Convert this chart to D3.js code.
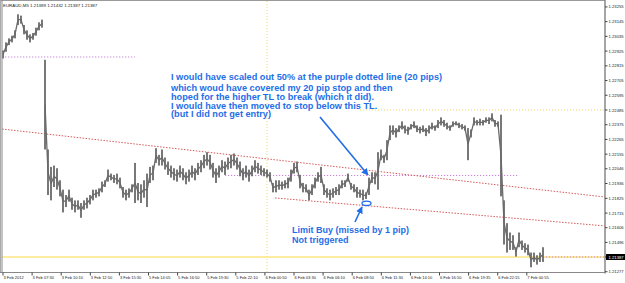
<!DOCTYPE html>
<html><head><meta charset="utf-8">
<script src="https://cdn.jsdelivr.net/npm/d3@7"></script>
<style>html,body{margin:0;padding:0;background:#fff;overflow:hidden}svg{display:block}</style>
</head><body>
<svg id="c" width="625" height="283"></svg>
<script>
const titleText = "EURAUD,M5  1.21389 1.21432 1.21387 1.21387";
const xLabels = ["3 Feb 2012","3 Feb 07:30","3 Feb 10:10","3 Feb 12:50","3 Feb 15:30","5 Feb 14:05","5 Feb 16:50","5 Feb 19:30","5 Feb 22:10","6 Feb 00:50","6 Feb 03:30","6 Feb 06:10","6 Feb 08:50","6 Feb 11:30","6 Feb 14:10","6 Feb 16:50","6 Feb 19:35","6 Feb 22:15","7 Feb 00:55"];
const yTicks = [1.23255,1.23145,1.23035,1.22925,1.22815,1.22705,1.22595,1.22485,1.22375,1.22265,1.22155,1.22046,1.21936,1.21825,1.21715,1.21606,1.21496,1.21387,1.21277];
const lastPrice = 1.21387;
// price highs / lows per 15-minute column
const highs = [1.2293,1.2299,1.2302,1.2304,1.2308,1.2320,1.2319,1.2312,1.2308,1.2305,1.2306,1.2310,1.2314,1.2316,
1.2286,1.2219,1.2206,1.2207,1.2205,1.2196,1.2189,1.2185,1.2189,1.2183,1.2181,1.2181,1.2179,1.2181,1.2183,1.2185,1.2189,1.2189,1.2190,1.2195,1.2196,1.2204,1.2201,1.2200,1.2201,1.2198,1.2191,1.2189,1.2190,1.2193,1.2209,1.2194,1.2193,1.2196,1.2201,1.2206,1.2207,1.2220,1.2215,1.2219,
1.2213,1.2210,1.2207,1.2205,1.2204,1.2207,1.2205,1.2202,1.2204,1.2207,1.2205,1.2209,1.2211,1.2215,1.2217,1.2215,1.2209,1.2205,1.2207,1.2211,1.2210,1.2213,1.2215,1.2216,1.2213,1.2210,1.2205,1.2207,1.2204,1.2207,1.2211,1.2209,1.2207,1.2205,1.2204,1.2202,
1.2194,1.2196,1.2196,1.2195,1.2196,1.2198,1.2204,1.2209,1.2210,1.2200,1.2194,1.2193,1.2189,1.2193,1.2198,1.2202,1.2206,1.2193,1.2190,1.2189,1.2190,1.2191,1.2193,1.2196,1.2196,1.2201,1.2194,1.2193,1.2191,1.2189,1.2189,1.2187,1.2198,1.2202,1.2202,1.2217,1.2219,1.2215,1.2226,
1.2237,1.2237,1.2235,1.2237,1.2240,1.2237,1.2236,1.2238,1.2240,1.2237,1.2236,1.2237,1.2235,1.2237,1.2239,1.2237,1.2241,1.2243,1.2241,1.2239,1.2237,1.2240,1.2240,1.2239,1.2238,1.2237,1.2235,1.2234,1.2243,1.2241,1.2242,1.2241,1.2243,1.2243,1.2246,1.2241,1.2240,
1.2245,1.2181,1.2164,1.2157,1.2155,1.2146,1.2157,1.2151,1.2149,1.2148,1.2142,1.2142,1.2140,1.2142,1.2146];
const lows = [1.2287,1.2292,1.2297,1.2299,1.2302,1.2312,1.2313,1.2305,1.2301,1.2299,1.2301,1.2304,1.2308,1.2310,
1.2219,1.2185,1.2181,1.2191,1.2189,1.2184,1.2172,1.2176,1.2180,1.2174,1.2172,1.2174,1.2168,1.2174,1.2175,1.2178,1.2181,1.2183,1.2184,1.2187,1.2191,1.2195,1.2196,1.2194,1.2193,1.2190,1.2183,1.2181,1.2183,1.2187,1.2179,1.2181,1.2179,1.2183,1.2176,1.2194,1.2196,1.2209,1.2207,1.2207,
1.2204,1.2200,1.2198,1.2196,1.2195,1.2198,1.2196,1.2193,1.2195,1.2198,1.2196,1.2200,1.2202,1.2205,1.2207,1.2204,1.2198,1.2194,1.2198,1.2202,1.2200,1.2204,1.2205,1.2207,1.2204,1.2199,1.2196,1.2198,1.2195,1.2199,1.2202,1.2201,1.2200,1.2199,1.2198,1.2195,
1.2187,1.2187,1.2189,1.2189,1.2190,1.2190,1.2195,1.2201,1.2202,1.2190,1.2187,1.2187,1.2181,1.2185,1.2190,1.2195,1.2194,1.2185,1.2183,1.2181,1.2183,1.2185,1.2185,1.2190,1.2191,1.2195,1.2189,1.2187,1.2183,1.2183,1.2181,1.2182,1.2185,1.2194,1.2193,1.2189,1.2211,1.2209,1.2211,
1.2226,1.2230,1.2228,1.2232,1.2234,1.2231,1.2230,1.2234,1.2235,1.2232,1.2231,1.2232,1.2229,1.2231,1.2234,1.2233,1.2235,1.2237,1.2236,1.2234,1.2233,1.2236,1.2237,1.2235,1.2234,1.2233,1.2211,1.2228,1.2237,1.2237,1.2237,1.2237,1.2239,1.2238,1.2240,1.2236,1.2236,
1.2184,1.2148,1.2142,1.2144,1.2144,1.2139,1.2146,1.2144,1.2142,1.2140,1.2131,1.2135,1.2133,1.2135,1.2135];
// columns after which a price gap occurs (no connection)
const gapAfter = [13];
// drawn objects (column index, price)
const upperTL = [[-0.3,1.22343],[200.7,1.21835]];
const lowerTL = [[90.7,1.21828],[200.7,1.21619]];
const purpleTop = [[-0.3,1.22881],[44,1.22881]];
const purpleMid = [[74,1.21996],[171.7,1.21996]];
const purpleEnd = [[180,1.21387],[200.7,1.21387]];
const yellowDotted = [[119,1.22485],[200.7,1.22485]];
const daySep = 88;
const note1 = ["I would have scaled out 50% at the purple dotted line (20 pips)","which woud have covered my 20 pip stop and then","hoped for the higher TL to break (which it did).","I would have then moved to stop below this TL.","(but I did not get entry)"];
const note2 = ["Limit Buy (missed by 1 pip)","Not triggered"];

const svg = d3.select("#c");
const x = d3.scaleLinear().domain([0,200]).range([3,603]);
const y = d3.scaleLinear().domain([1.21387,1.22485]).range([257,110]);
const L=2, R=605, T=1, B=272.5;
const blue = "#1f6ee8";
const barCol = "#6a6a6a";

svg.append("rect").attr("x",0).attr("y",0).attr("width",625).attr("height",283).attr("fill","#fff");
const plot = svg.append("g");
plot.append("defs").append("clipPath").attr("id","clp").append("rect").attr("x",L).attr("y",T).attr("width",R-L).attr("height",B-T);
const g = plot.append("g").attr("clip-path","url(#clp)");
const line = d3.line().x(d=>x(d[0])).y(d=>y(d[1]));

// separators & levels
g.append("line").attr("x1",x(daySep)).attr("x2",x(daySep)).attr("y1",T).attr("y2",B).attr("stroke","#f0d870").attr("stroke-width",1).attr("stroke-dasharray","1,2");
g.append("line").attr("x1",L).attr("x2",R).attr("y1",y(lastPrice)).attr("y2",y(lastPrice)).attr("stroke","#ffe680").attr("stroke-width",1.5);
g.append("path").attr("d",line(yellowDotted)).attr("stroke","#f5d860").attr("stroke-dasharray","1,2").attr("fill","none");
[purpleTop,purpleMid,purpleEnd].forEach(p=>g.append("path").attr("d",line(p)).attr("stroke","#c77fd8").attr("stroke-dasharray","1.2,1.8").attr("fill","none"));
[upperTL,lowerTL].forEach(p=>g.append("path").attr("d",line(p)).attr("stroke","#d65a5a").attr("stroke-dasharray","1.5,1.5").attr("fill","none"));

// price: connecting path through bar mid-points, then bars
const mids = highs.map((h,i)=>[i,(h+lows[i])/2]);
const priceLine = d3.line().defined((d,i)=>true).x(d=>x(d[0])).y(d=>y(d[1]));
const segs = [];
let cur = [];
mids.forEach((m,i)=>{ cur.push(m); if(gapAfter.includes(i)){segs.push(cur);cur=[];} });
segs.push(cur);
segs.forEach(s=>g.append("path").attr("d",priceLine(s)).attr("fill","none").attr("stroke",barCol).attr("stroke-width",1.3).attr("stroke-linejoin","round"));
g.selectAll("rect.bar").data(highs).enter().append("rect").attr("class","bar")
 .attr("x",(d,i)=>x(i)-0.9).attr("width",1.8)
 .attr("y",d=>y(d)).attr("height",(d,i)=>Math.max(1,y(lows[i])-y(d)))
 .attr("fill",barCol);

// frame
svg.append("line").attr("x1",0).attr("x2",R).attr("y1",0.5).attr("y2",0.5).attr("stroke","#999");
svg.append("line").attr("x1",0.5).attr("x2",0.5).attr("y1",0).attr("y2",B).attr("stroke","#aaa");
svg.append("line").attr("x1",2).attr("x2",2).attr("y1",0).attr("y2",B).attr("stroke","#888");
svg.append("line").attr("x1",R).attr("x2",R).attr("y1",0).attr("y2",B+1).attr("stroke","#888").attr("stroke-width",1.5);
svg.append("line").attr("x1",0).attr("x2",R).attr("y1",B).attr("y2",B).attr("stroke","#888").attr("stroke-width",1.2);

// y axis
const fontF = "Liberation Sans, Arial, sans-serif";
yTicks.forEach(v=>{
  svg.append("line").attr("x1",R).attr("x2",R+2.5).attr("y1",y(v)).attr("y2",y(v)).attr("stroke","#444");
  svg.append("text").attr("x",608.5).attr("y",y(v)+1.5).text(v.toFixed(5)).attr("font-family",fontF).attr("font-size",4.2).attr("fill","#222");
});
svg.append("rect").attr("x",606).attr("y",y(lastPrice)-3).attr("width",19).attr("height",6).attr("fill","#000");
svg.append("text").attr("x",608.5).attr("y",y(lastPrice)+1.5).text(lastPrice.toFixed(5)).attr("font-family",fontF).attr("font-size",4.2).attr("fill","#fff");

// x axis
xLabels.forEach((t,i)=>{
  const xp = x(i*9.7);
  svg.append("line").attr("x1",xp).attr("x2",xp).attr("y1",B).attr("y2",B+3).attr("stroke","#444");
  svg.append("text").attr("x",xp+0.5).attr("y",278.5).text(t).attr("font-family",fontF).attr("font-size",4).attr("fill","#222");
});

// title
svg.append("text").attr("x",3).attr("y",7).text(titleText).attr("font-family",fontF).attr("font-size",4.4).attr("fill","#222");

// annotations
const ys1=[80,91,100,108.5,117];
note1.forEach((t,i)=>svg.append("text").attr("x",171).attr("y",ys1[i]).text(t).attr("font-family",fontF).attr("font-weight","bold").attr("font-size",9.2).attr("fill",blue));
note2.forEach((t,i)=>svg.append("text").attr("x",292).attr("y",233+i*10).text(t).attr("font-family",fontF).attr("font-weight","bold").attr("font-size",9).attr("fill",blue));

const defs = svg.append("defs");
defs.append("marker").attr("id","ah").attr("viewBox","0 0 10 10").attr("refX",9).attr("refY",5).attr("markerWidth",7).attr("markerHeight",7).attr("orient","auto").attr("markerUnits","userSpaceOnUse")
 .append("path").attr("d","M0,0 L10,5 L0,10 Z").attr("fill",blue);
svg.append("line").attr("x1",320).attr("y1",117).attr("x2",368).attr("y2",175).attr("stroke",blue).attr("stroke-width",1.6).attr("marker-end","url(#ah)");
svg.append("line").attr("x1",355).attr("y1",222).attr("x2",362).attr("y2",207).attr("stroke",blue).attr("stroke-width",1.6).attr("marker-end","url(#ah)");
svg.append("ellipse").attr("cx",366.5).attr("cy",203.3).attr("rx",4.5).attr("ry",2.2).attr("fill","none").attr("stroke",blue).attr("stroke-width",1.3);
</script>
</body></html>
